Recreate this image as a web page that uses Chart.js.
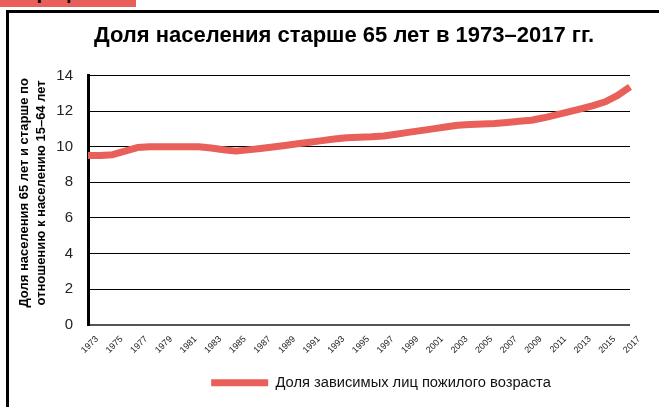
<!DOCTYPE html>
<html lang="ru">
<head>
<meta charset="utf-8">
<title>Доля населения старше 65 лет</title>
<script src="https://cdn.jsdelivr.net/npm/chart.js@4.4.1/dist/chart.umd.min.js"></script>
<style>
    html, body { margin: 0; padding: 0; background: #fff; width: 659px; height: 407px; overflow: hidden; }
    .tab { position: absolute; left: 0; top: 0; width: 136px; height: 7px; background: #e9605a; overflow: hidden; }
    .tab span { position: absolute; left: 26px; top: -19px; font: bold 20px 'Liberation Sans', Arial, sans-serif; color: #000; white-space: nowrap; }
    .frame { position: absolute; left: 6px; top: 10px; width: 700px; height: 500px; border-left: 3px solid #000; border-top: 3px solid #000; }
    #chart { position: absolute; left: 0; top: 0; }
</style>
</head>
<body>
<div class="tab"><span>График 1</span></div>
<div class="frame"></div>
<canvas id="chart" width="659" height="407"></canvas>
<script>
// 연도 카테고리 (x축)
const years = [
    1973, 1974, 1975, 1976, 1977, 1978, 1979, 1980, 1981, 1982,
    1983, 1984, 1985, 1986, 1987, 1988, 1989, 1990, 1991, 1992,
    1993, 1994, 1995, 1996, 1997, 1998, 1999, 2000, 2001, 2002,
    2003, 2004, 2005, 2006, 2007, 2008, 2009, 2010, 2011, 2012,
    2013, 2014, 2015, 2016, 2017
];

// Доля зависимых лиц пожилого возраста, %
const oldAgeShare = [
    9.5, 9.5, 9.55, 9.75, 9.95, 10.0, 10.0, 10.0, 10.0, 10.0,
    9.92, 9.83, 9.75, 9.82, 9.9, 9.98, 10.07, 10.16, 10.25, 10.34,
    10.43, 10.5, 10.53, 10.55, 10.6, 10.7, 10.8, 10.9, 11.0, 11.1,
    11.2, 11.25, 11.27, 11.3, 11.36, 11.42, 11.48, 11.62, 11.78, 11.95,
    12.12, 12.3, 12.52, 12.88, 13.35
];

// y축 눈금
const yTicks = [0, 2, 4, 6, 8, 10, 12, 14];

const chartTitle = 'Доля населения старше 65 лет в 1973–2017 гг.';
const seriesName = 'Доля зависимых лиц пожилого возраста';
const yTitle = ['    Доля населения 65 лет и старше по', '    отношению к населению 15–64 лет'];

const LINE_COLOR = '#e9605a';
const FONT = "'Liberation Sans', Arial, sans-serif";

Chart.defaults.font.family = FONT;
Chart.defaults.color = '#222';

// 제목과 범례의 가로 중심 위치 조정
const shiftBoxes = {
    id: 'shiftBoxes',
    afterLayout(chart) {
        moveBox(chart.titleBlock, 344);
        moveBox(chart.legend, 381);
    }
};

function moveBox(box, center) {
    if (!box) return;
    const dx = center - (box.left + box.right) / 2;
    box.left += dx;
    box.right += dx;
}

const chart = new Chart(document.getElementById('chart'), {
    type: 'line',
    data: {
        labels: years,
        datasets: [{
            label: seriesName,
            data: oldAgeShare,
            borderColor: LINE_COLOR,
            backgroundColor: LINE_COLOR,
            borderWidth: 7,
            pointRadius: 0,
            tension: 0,
            borderCapStyle: 'butt',
            borderJoinStyle: 'round',
            clip: false
        }]
    },
    options: {
        responsive: false,
        animation: false,
        layout: { padding: { left: 12, right: 29, top: 0, bottom: 7 } },
        plugins: {
            title: {
                display: true,
                text: chartTitle,
                color: '#000',
                font: { size: 22, weight: 'bold' },
                padding: { top: 23, bottom: 26 }
            },
            legend: {
                position: 'bottom',
                labels: {
                    boxWidth: 57,
                    boxHeight: 7,
                    padding: 8,
                    color: '#111',
                    font: { size: 14.7 },
                    generateLabels: () => [{
                        text: seriesName,
                        fillStyle: LINE_COLOR,
                        strokeStyle: LINE_COLOR,
                        fontColor: '#111',
                        lineWidth: 0,
                        hidden: false,
                        datasetIndex: 0
                    }]
                }
            },
            tooltip: { enabled: false }
        },
        scales: {
            x: {
                grid: { display: false, drawTicks: false },
                border: { display: false },
                ticks: {
                    autoSkip: false,
                    maxRotation: 45,
                    minRotation: 45,
                    padding: 9,
                    labelOffset: 9,
                    color: '#222',
                    font: { size: 9 },
                    callback: (value, index) => (index % 2 === 0 ? years[index] : '')
                },
                afterFit: scale => { scale.height = 42.5; }
            },
            y: {
                min: 0,
                max: 14,
                afterBuildTicks: scale => { scale.ticks = yTicks.map(v => ({ value: v })); },
                grid: {
                    color: ctx => (ctx.tick && ctx.tick.value === 0 ? '#555' : '#000'),
                    lineWidth: ctx => (ctx.tick && ctx.tick.value === 0 ? 2 : 1),
                    drawTicks: false
                },
                border: { display: true, color: '#000', width: 3 },
                ticks: { padding: 15, color: '#222', font: { size: 15 } },
                title: {
                    display: true,
                    text: yTitle,
                    color: '#000',
                    font: { size: 13, weight: 'bold', lineHeight: 1.28 },
                    padding: { top: 4, bottom: 0 }
                },
                afterFit: scale => { scale.width = 76; }
            }
        }
    },
    plugins: [shiftBoxes]
});
</script>
</body>
</html>
